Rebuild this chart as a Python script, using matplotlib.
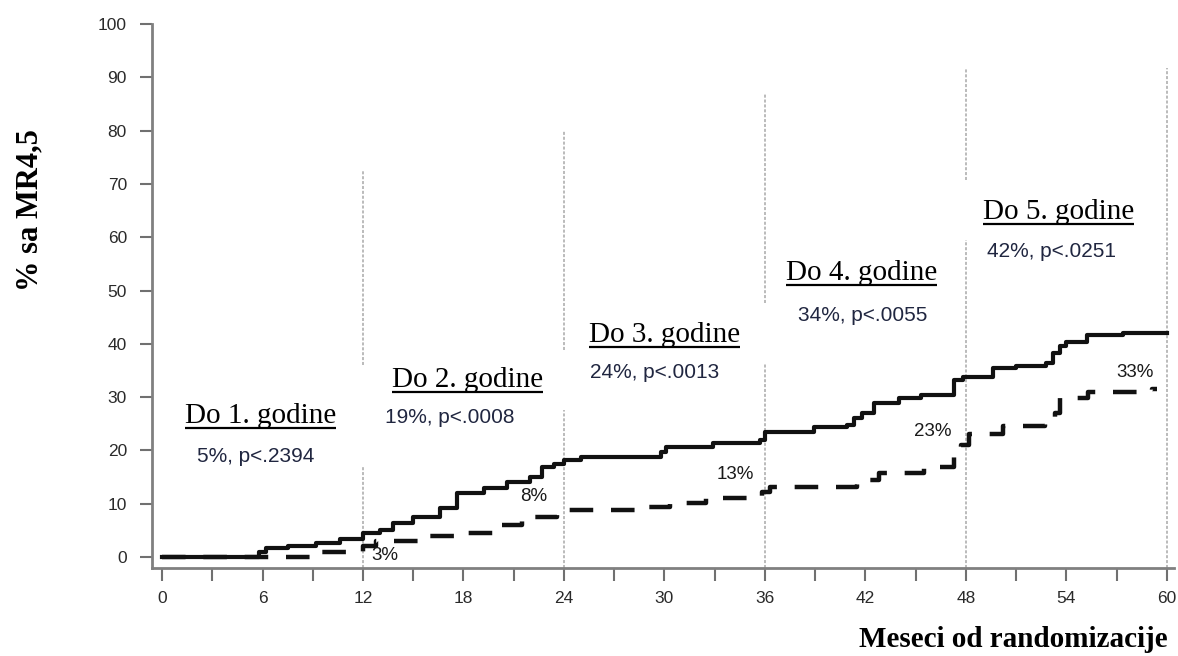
import matplotlib
matplotlib.use('Agg')
import matplotlib.pyplot as plt
import numpy as np

# months from randomisation / cumulative %
solid_t = [0, 5.8, 6.2, 7.5, 9.2, 10.6, 12.0, 13.0, 13.8, 15.0, 16.6, 17.6, 19.2, 20.6,
           22.0, 22.7, 23.4, 24.0, 25.0, 29.8, 30.1, 32.9, 35.7, 36.0, 38.9, 40.9, 41.3,
           41.8, 42.5, 44.0, 45.3, 47.3, 47.8, 49.6, 51.0, 52.8, 53.2, 53.6, 54.0, 55.2,
           57.4, 60.0]
solid_v = [0, 1.0, 1.7, 2.1, 2.7, 3.3, 4.5, 5.1, 6.4, 7.6, 9.2, 12.0, 12.9, 14.1,
           15.1, 16.9, 17.5, 18.2, 18.8, 19.8, 20.7, 21.4, 21.9, 23.5, 24.4, 24.8, 26.0,
           27.0, 28.9, 29.8, 30.4, 33.2, 33.8, 35.4, 35.9, 36.4, 38.3, 39.5, 40.4, 41.6,
           42.1, 42.1]

dashed_t = [0, 9.3, 12.0, 12.8, 15.3, 17.5, 19.8, 21.5, 23.6, 29.0, 30.3, 32.5, 35.0,
            35.8, 36.3, 41.5, 42.8, 45.5, 47.3, 47.7, 48.2, 50.2, 52.7, 53.3, 53.6, 55.3,
            59.1, 59.4]
dashed_v = [0, 1.0, 2.0, 3.0, 3.9, 4.6, 6.0, 7.6, 8.8, 9.3, 10.2, 11.0, 11.5,
            12.2, 13.2, 14.5, 15.7, 16.9, 19.7, 21.0, 23.0, 24.5, 25.5, 27.0, 29.8, 31.0,
            31.5, 31.5]

curve_labels = ['3%', '8%', '13%', '23%', '33%']
curve_label_t = [13.3, 22.2, 34.2, 46.0, 58.1]
curve_label_v = [0.2, 11.4, 15.4, 23.5, 34.7]

period_titles = ['Do 1. godine', 'Do 2. godine', 'Do 3. godine', 'Do 4. godine', 'Do 5. godine']
period_stats = ['5%, p<.2394', '19%, p<.0008', '24%, p<.0013', '34%, p<.0055', '42%, p<.0251']
title_t = [1.37, 13.73, 25.5, 37.25, 49.0]
title_v = [25.1, 31.9, 40.3, 52.0, 63.4]
stats_t = [2.09, 13.3, 25.55, 37.97, 49.25]
stats_v = [18.8, 26.1, 34.7, 45.4, 57.4]

guide_x = [12, 24, 36, 48, 60]
guide_segments = [[(-2, 16.9), (36.0, 72.6)],
                  [(-2, 27.6), (38.8, 80.1)],
                  [(-2, 36.4), (47.7, 87.0)],
                  [(-2, 59.5), (70.7, 91.7)],
                  [(-2, 91.7)]]

xticks_major = list(range(0, 61, 6))
xticks_minor = list(range(3, 60, 6))
yticks = list(range(0, 101, 10))

fig = plt.figure(figsize=(11.78, 6.56), dpi=100)
ax = fig.add_axes([0.129, 0.1346, 0.8673, 0.8288])
ax.set_xlim(-0.6, 60.4)
ax.set_ylim(-2, 100)

# dotted guides at each year
for gx, segs in zip(guide_x, guide_segments):
    for lo, hi in segs:
        ax.plot([gx, gx], [lo, hi], color='#a8a8a8', lw=1.1,
                linestyle=(0, (2, 1.2)), zorder=1, clip_on=False)

ax.step(solid_t, solid_v, where='post', color='#111111', lw=3.0, zorder=3)
ax.step(dashed_t, dashed_v, where='post', color='#111111', lw=3.2,
        dashes=(5.3, 4.0), zorder=3)

for lab, t, v in zip(curve_labels, curve_label_t, curve_label_v):
    ax.text(t, v, lab, ha='center', va='center', fontsize=13.5,
            family='Liberation Sans', color='#1a1a1a', zorder=4)

title_objs = []
for lab, t, v in zip(period_titles, title_t, title_v):
    tx = ax.text(t, v, lab, ha='left', va='baseline', fontsize=21,
                 family='Liberation Serif', color='black', zorder=5)
    title_objs.append(tx)
for lab, t, v in zip(period_stats, stats_t, stats_v):
    ax.text(t, v, lab, ha='left', va='center', fontsize=15,
            family='Liberation Sans', color='#202640', zorder=5)

# axes styling
for side in ['top', 'right']:
    ax.spines[side].set_visible(False)
for side in ['left', 'bottom']:
    ax.spines[side].set_color('#808080')
    ax.spines[side].set_linewidth(2)

ax.set_xticks(xticks_major)
ax.set_xticks(xticks_minor, minor=True)
ax.set_yticks(yticks)
ax.tick_params(axis='both', which='both', direction='out', length=9,
               width=1.5, color='#707070')
ax.tick_params(axis='x', which='major', pad=8)
ax.tick_params(axis='y', which='major', pad=9)
for lbl in ax.get_xticklabels() + ax.get_yticklabels():
    lbl.set_family('Liberation Sans')
    lbl.set_fontsize(12.5)
    lbl.set_color('#2a2a2a')

fig.text(0.0255, 0.68, '% sa MR4,5', rotation=90, ha='center', va='center',
         fontsize=22, fontweight='bold', family='Liberation Serif')
fig.text(0.9915, 0.0244, 'Meseci od randomizacije', ha='right', va='center',
         fontsize=21, fontweight='bold', family='Liberation Serif')

# underline the period titles
fig.canvas.draw()
renderer = fig.canvas.get_renderer()
inv = ax.transData.inverted()
for tx, t, v in zip(title_objs, title_t, title_v):
    bb = tx.get_window_extent(renderer)
    base_px = ax.transData.transform((t, v))[1]
    x0, y0 = inv.transform((bb.x0, base_px - 5))
    x1, _ = inv.transform((bb.x1, base_px - 5))
    ax.plot([x0, x1], [y0, y0], color='black', lw=1.6, zorder=5,
            solid_capstyle='butt', clip_on=False)

fig.savefig('out.png', dpi=100)
